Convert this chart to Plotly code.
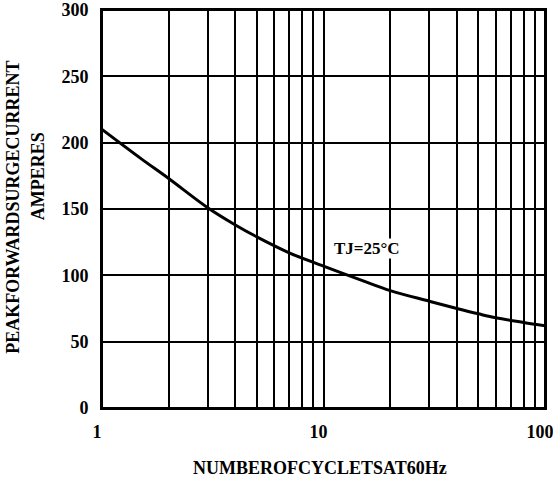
import plotly.graph_objects as go

cycles = [1, 1.5, 2, 3, 4, 5, 7, 10, 15, 20, 30, 40, 50, 60, 80, 100]
current = [210, 188, 173, 151, 138, 129, 117, 107, 96, 88.5, 80.5, 75, 71, 68, 64.5, 62]

x_tickvals = [1, 2, 3, 4, 5, 6, 7, 8, 9, 10, 20, 30, 40, 50, 60, 70, 80, 90, 100]
x_ticktext = ["1", "", "", "", "", "", "", "", "", "10", "", "", "", "", "", "", "", "", "100"]
y_tickvals = [0, 50, 100, 150, 200, 250, 300]

FONT = "Liberation Serif, Times New Roman, serif"

fig = go.Figure()
fig.add_trace(go.Scatter(
    x=cycles, y=current, mode="lines",
    line=dict(color="black", width=3, shape="spline", smoothing=1),
    hoverinfo="skip", showlegend=False,
))

fig.update_layout(
    width=553, height=482,
    margin=dict(l=102, r=8, t=10, b=74),
    paper_bgcolor="white", plot_bgcolor="white",
    font=dict(family=FONT, size=18, color="black", weight="bold"),
    xaxis=dict(
        type="log", range=[0, 2], automargin=False,
        tickvals=x_tickvals, ticktext=x_ticktext,
        showgrid=True, gridcolor="black", gridwidth=1.8,
        showline=True, linecolor="black", linewidth=2, mirror=True,
        ticks="", ticklabelstandoff=6, ticklabelshift=-5,
        ticklabeloverflow="allow",
        tickfont=dict(family=FONT, size=18, color="black", weight="bold"),
        zeroline=False,
    ),
    yaxis=dict(
        range=[0, 300], tickvals=y_tickvals, automargin=False,
        showgrid=True, gridcolor="black", gridwidth=1.8,
        showline=True, linecolor="black", linewidth=2, mirror=True,
        ticks="", ticklabelstandoff=8, ticklabeloverflow="allow",
        tickfont=dict(family=FONT, size=18, color="black", weight="bold"),
        zeroline=False,
    ),
    shapes=[
        dict(type="rect", xref="paper", yref="paper", x0=0, x1=1, y0=0, y1=1,
             line=dict(color="black", width=2), fillcolor="rgba(0,0,0,0)", layer="above"),
    ],
    annotations=[
        dict(x=1.196, y=120.5, xref="x", yref="y", text="TJ=25°C",
             xanchor="center", yanchor="middle",
             showarrow=False, font=dict(family=FONT, size=17, color="black", weight="bold"),
             bgcolor="white", borderpad=0),
        dict(x=0.492, y=-0.151, xref="paper", yref="paper", text="NUMBEROFCYCLETSAT60Hz",
             xanchor="center", yanchor="middle",
             showarrow=False, font=dict(family=FONT, size=18, color="black", weight="bold")),
        dict(x=-0.200, y=0.504, xref="paper", yref="paper", text="PEAKFORWARDSURGECURRENT",
             xanchor="center", yanchor="middle",
             textangle=-90, showarrow=False,
             font=dict(family=FONT, size=18, color="black", weight="bold")),
        dict(x=-0.1437, y=0.583, xref="paper", yref="paper", text="AMPERES",
             xanchor="center", yanchor="middle",
             textangle=-90, showarrow=False,
             font=dict(family=FONT, size=18, color="black", weight="bold")),
    ],
)

fig.write_html("out.html", config={"displayModeBar": False},
               post_script="document.body.style.margin='0';document.body.style.overflow='hidden';")
